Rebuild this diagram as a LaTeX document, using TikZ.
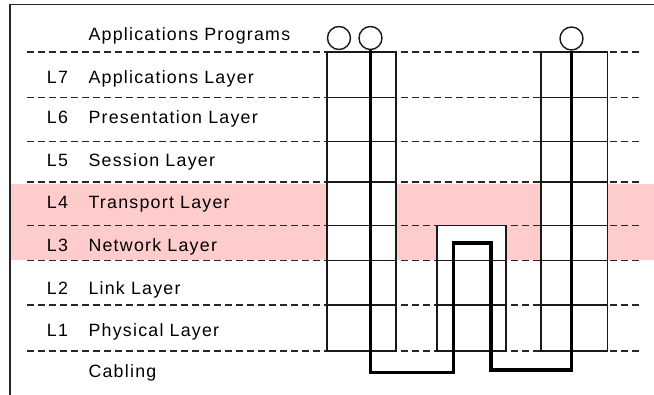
\documentclass[tikz,border=0pt]{standalone}
\usepackage{fontspec}
\setmainfont{Liberation Sans}[LetterSpace=7]
\definecolor{bandpink}{HTML}{FFCCCC}
\begin{document}
\begin{tikzpicture}[x=1pt,y=-1pt,
  lbl/.style={anchor=base west, inner sep=0pt, font=\fontsize{17.8}{20}\selectfont},
  layerline/.style={draw=black!85, line width=1.5pt, dash pattern=on 6.5pt off 4.5pt},
  cell/.style={draw=black!90, line width=1.4pt, fill=white},
  cellline/.style={draw=black!90, line width=1.4pt},
  port/.style={circle, draw=black!90, line width=1.4pt, fill=white, minimum size=23pt, inner sep=0pt},
  wire/.style={draw=black, line width=3.3pt, line join=miter},
  frame/.style={draw=black!85, line width=1.6pt}]
\useasboundingbox (0,0) rectangle (654,395);

% highlighted band for layers 3 and 4
\fill[bandpink] (10,184) rectangle (654,260.5);

% outer frame
\draw[frame] (654,4.5) -- (10,4.5) -- (10,395);

% layer separators
\foreach \y in {52,97.5,141.5,182,225.5,260.5,305,351}
  \draw[layerline] (27,\y) -- (643,\y);

% end-system stacks
\draw[cell] (327,52) rectangle (396,351);
\foreach \y in {97.5,141.5,182,225.5,260.5,305}
  \draw[cellline] (327,\y) -- (396,\y);
\draw[cell] (541,52) rectangle (607.5,351);
\foreach \y in {97.5,141.5,182,225.5,260.5,305}
  \draw[cellline] (541,\y) -- (607.5,\y);

% intermediate router stack
\draw[cell] (437,225.5) rectangle (506,351);
\foreach \y in {260.5,305}
  \draw[cellline] (437,\y) -- (506,\y);

% application programs
\node[port] (p1) at (339,38) {};
\node[port] (p2) at (370.5,38) {};
\node[port] (p3) at (571.5,38.5) {};

% data path
\coordinate (down1) at (370.5,372.5);
\coordinate (rtop) at (453.5,243);
\coordinate (rdown) at (491,370);
\draw[wire] (p2.south) -- (down1) -| (rtop) -| (rdown) -| (p3.south);

% labels
\node[lbl] (tap) at (88.3,40.5) {Applications Programs};
\node[lbl] (n7) at (46.7,83.3) {L7};
\node[lbl] (t7) at (88.3,83.3) {Applications Layer};
\node[lbl] (n6) at (46.7,124) {L6};
\node[lbl] (t6) at (88.3,124) {Presentation Layer};
\node[lbl] (n5) at (46.7,166.7) {L5};
\node[lbl] (t5) at (88.3,166.7) {Session Layer};
\node[lbl] (n4) at (46.7,208.3) {L4};
\node[lbl] (t4) at (88.3,208.3) {Transport Layer};
\node[lbl] (n3) at (46.7,251.7) {L3};
\node[lbl] (t3) at (88.3,251.7) {Network Layer};
\node[lbl] (n2) at (46.7,295) {L2};
\node[lbl] (t2) at (88.3,295) {Link Layer};
\node[lbl] (n1) at (46.7,336.7) {L1};
\node[lbl] (t1) at (88.3,336.7) {Physical Layer};
\node[lbl] (tc) at (88.3,377.3) {Cabling};
\end{tikzpicture}
\end{document}
